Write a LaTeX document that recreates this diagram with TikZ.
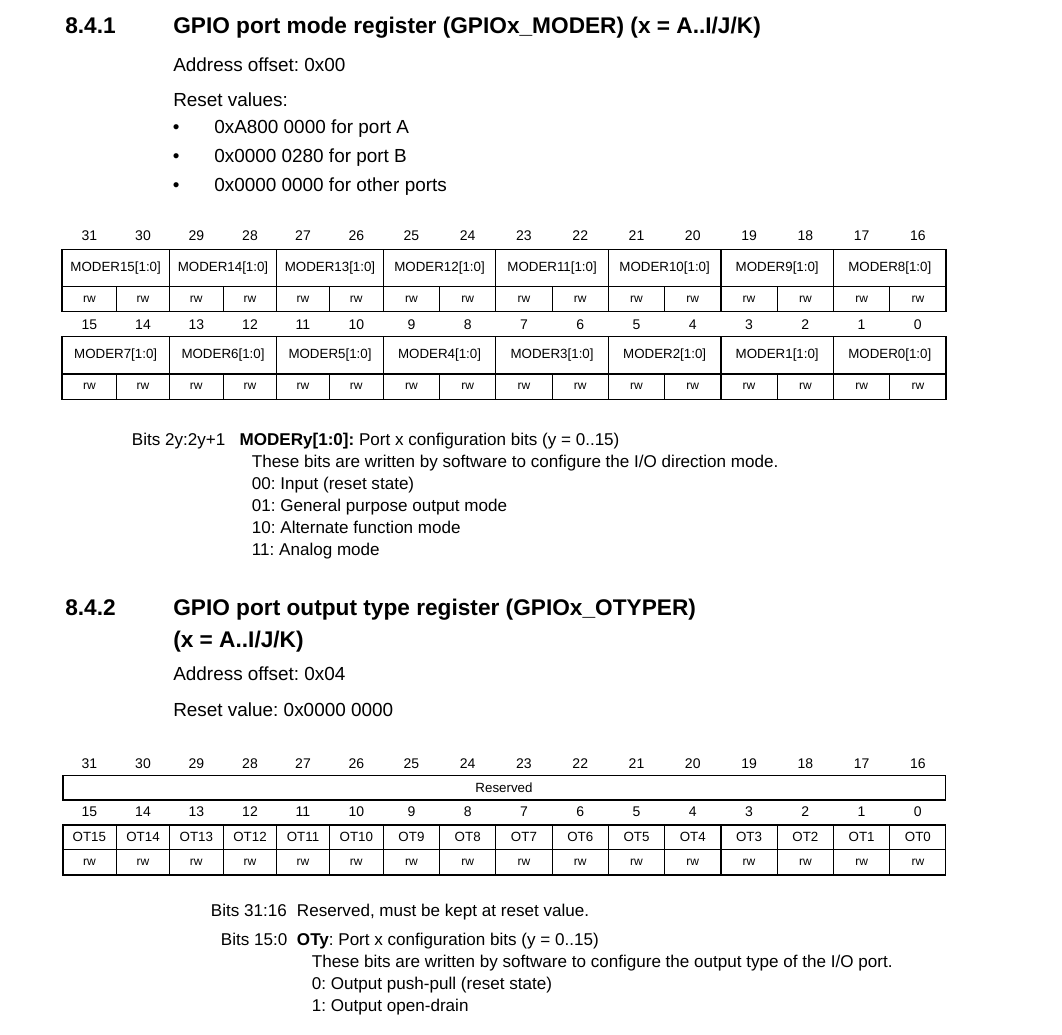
\documentclass[tikz,border=0pt]{standalone}
\usepackage{fontspec}
\setmainfont{Liberation Sans}
\usetikzlibrary{positioning}
\frenchspacing

% column edges of one 16 bit register row
\def\cols{62/116.7,116.7/169.3,169.3/223.3,223.3/276.7,276.7/329.3,329.3/383.3,383.3/439.6,439.6/495.8,495.8/552.1,552.1/608.4,608.4/664.6,664.6/720.9,720.9/777.2,777.2/833.5,833.5/889.7,889.7/946}
\def\pairs{62/169.3,169.3/276.7,276.7/383.3,383.3/495.8,495.8/608.4,608.4/720.9,720.9/833.5,833.5/946}

\tikzset{
  head/.style={anchor=base west,inner sep=0pt,font=\fontsize{17}{20}\selectfont\bfseries},
  body/.style={anchor=base west,inner sep=0pt,font=\fontsize{14.2}{17}\selectfont},
  desc/.style={anchor=base west,inner sep=0pt,font=\fontsize{12.8}{15}\selectfont},
  bitnum/.style={inner sep=0pt,font=\fontsize{10.5}{12}\selectfont},
  field/.style={inner sep=0pt,font=\fontsize{10}{12}\selectfont},
  access/.style={inner sep=0pt,font=\fontsize{9}{10}\selectfont},
  regline/.style={line width=0.9pt,black},
}

\begin{document}
\begin{tikzpicture}[x=0.75pt,y=-0.75pt]
 \useasboundingbox[fill=white] (0,0) rectangle (1062,1034);

 % 8.4.1 GPIOx_MODER
 \node[head] (n841) at (65,34) {8.4.1};
 \node[head] (t841) at (173,34) {GPIO port mode register (GPIOx\_MODER) (x = A..I/J/K)};
 \node[body] (off841) at (173,71.7) {Address offset: 0x00};
 \node[body] (rst841) at (173,106.7) {Reset values:};
 \foreach \t [count=\r from 0] in {0xA800 0000 for port A,0x0000 0280 for port B,0x0000 0000 for other ports}{
  \node[body] (dot\r) at (172.5,133.3+29.2*\r) {•};
  \node[body] (val\r) at (214,133.3+29.2*\r) {\t};
 }

 \draw[regline] (62,249.3) rectangle (946,311.7);
 \draw[regline] (62,286.7) -- (946,286.7);
 \draw[regline] (62,336.7) rectangle (946,399.3);
 \draw[regline] (62,374) -- (946,374);
 \foreach \xa/\xb [count=\c from 0] in \cols{
  \pgfmathtruncatemacro\hi{31-\c}
  \pgfmathtruncatemacro\lo{15-\c}
  \node[bitnum] (mh\hi) at ({(\xa+\xb)/2},236) {\hi};
  \node[access] (mah\hi) at ({(\xa+\xb)/2},299.2) {rw};
  \node[bitnum] (ml\lo) at ({(\xa+\xb)/2},324.3) {\lo};
  \node[access] (mal\lo) at ({(\xa+\xb)/2},386.7) {rw};
  \ifnum\c<15
   \ifodd\c
    \draw[regline] (\xb,249.3) -- (\xb,311.7) (\xb,336.7) -- (\xb,399.3);
   \else
    \draw[regline] (\xb,286.7) -- (\xb,311.7) (\xb,374) -- (\xb,399.3);
   \fi
  \fi
 }
 \foreach \xa/\xb [count=\k from 0] in \pairs{
  \pgfmathtruncatemacro\hi{15-\k}
  \pgfmathtruncatemacro\lo{7-\k}
  \node[field] (moder\hi) at ({(\xa+\xb)/2},268) {MODER\hi[1:0]};
  \node[field] (moder\lo) at ({(\xa+\xb)/2},355.3) {MODER\lo[1:0]};
 }

 \node[desc] (bits841) at (131.7,445.5) {Bits 2y:2y+1};
 \node[desc] (fld841) at (239.3,445.5) {\textbf{MODERy[1:0]:} Port x configuration bits (y = 0..15)};
 \foreach \t [count=\r from 1] in {These bits are written by software to configure the I/O direction mode.,
   00: Input (reset state),01: General purpose output mode,10: Alternate function mode,11: Analog mode}{
  \node[desc] (mdesc\r) at (251.7,445.5+21.9*\r) {\t};
 }

 % 8.4.2 GPIOx_OTYPER
 \node[head] (n842) at (65,615) {8.4.2};
 \node[head] (t842) at (173,615) {GPIO port output type register (GPIOx\_OTYPER)};
 \node[head] (t842b) at (173,647.3) {(x = A..I/J/K)};
 \node[body] (off842) at (173,680.7) {Address offset: 0x04};
 \node[body] (rst842) at (173,716.7) {Reset value: 0x0000 0000};

 \draw[regline] (63,775.7) rectangle (945.5,800);
 \node[field] (resv) at (504,788) {Reserved};
 \draw[regline] (63,825) rectangle (945.5,875);
 \draw[regline] (63,849.3) -- (945.5,849.3);
 \foreach \xa/\xb [count=\c from 0] in \cols{
  \pgfmathtruncatemacro\hi{31-\c}
  \pgfmathtruncatemacro\lo{15-\c}
  \node[bitnum] (oh\hi) at ({(\xa+\xb)/2},763.3) {\hi};
  \node[bitnum] (ol\lo) at ({(\xa+\xb)/2},811.7) {\lo};
  \node[field] (ot\lo) at ({(\xa+\xb)/2},837.2) {OT\lo};
  \node[access] (oa\lo) at ({(\xa+\xb)/2},862.2) {rw};
  \ifnum\c<15
   \draw[regline] (\xb,825) -- (\xb,875);
  \fi
 }

 \node[desc] (bits31) at (210.7,916.7) {Bits 31:16};
 \node[desc] (fld31) at (296.7,916.7) {Reserved, must be kept at reset value.};
 \node[desc] (bits15) at (220.7,945) {Bits 15:0};
 \node[desc] (fld15) at (296.7,945) {\textbf{OTy}: Port x configuration bits (y = 0..15)};
 \foreach \t [count=\r from 1] in {These bits are written by software to configure the output type of the I/O port.,
   0: Output push-pull (reset state),1: Output open-drain}{
  \node[desc] (odesc\r) at (311.7,945+22*\r) {\t};
 }
\end{tikzpicture}
\end{document}
